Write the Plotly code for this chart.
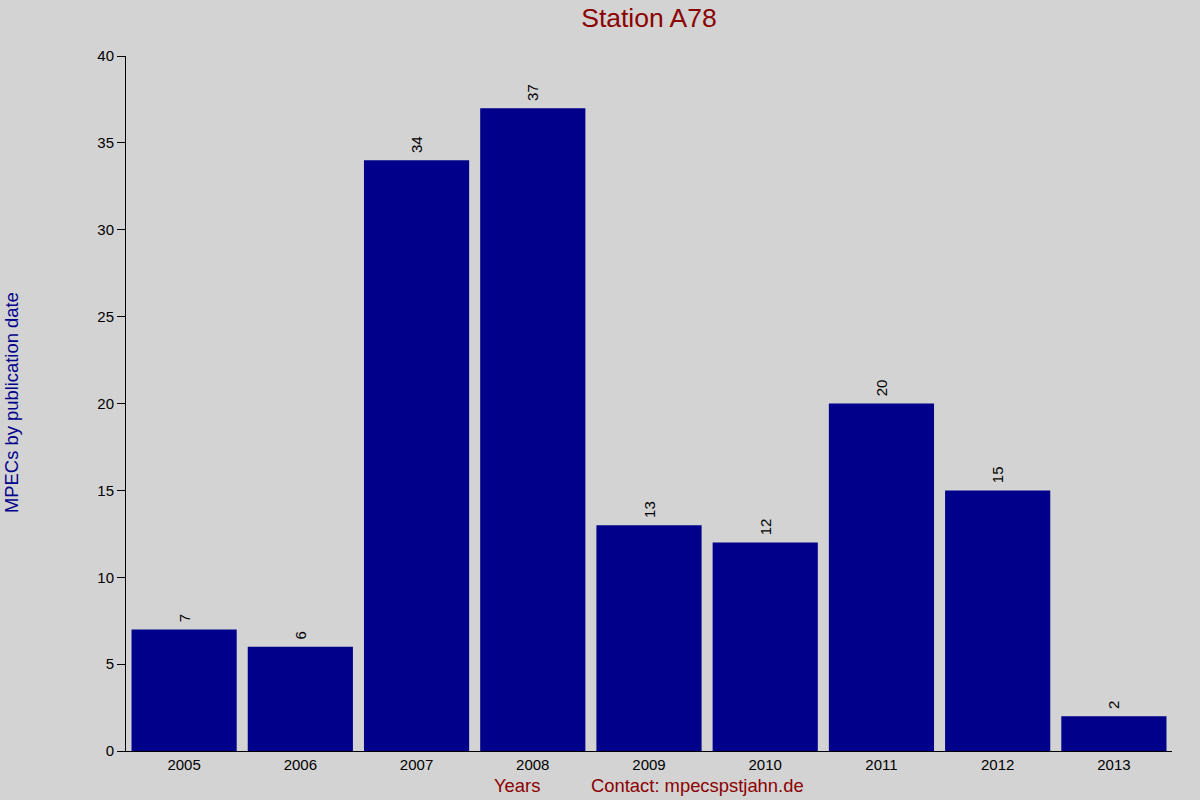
import plotly.graph_objects as go

years = ["2005", "2006", "2007", "2008", "2009", "2010", "2011", "2012", "2013"]
mpecs = [7, 6, 34, 37, 13, 12, 20, 15, 2]

BG = "#D3D3D3"
W, H = 1200, 800
L, T, R, B = 126, 56, 28, 49
pw = W - L - R
ph = H - T - B


def px_x(x):
    return (x - L) / pw


def px_y(y):
    return (H - B - y) / ph


fig = go.Figure()
fig.add_trace(go.Bar(
    x=years, y=mpecs,
    marker=dict(color="#00008B", line=dict(width=0)),
    text=[" " + str(v) for v in mpecs],
    textposition="outside",
    textangle=-90,
    textfont=dict(family="Liberation Sans, Arial", size=15, color="black"),
    cliponaxis=False,
))
fig.update_layout(
    width=W, height=H,
    paper_bgcolor=BG, plot_bgcolor=BG,
    margin=dict(l=L, r=R, t=T, b=B),
    bargap=0.095,
    showlegend=False,
    font=dict(family="Liberation Sans, Arial", size=14, color="black"),
    title=dict(text="Station A78", x=px_x(649), xref="paper", xanchor="center",
               y=1 - 18 / H, yanchor="middle",
               font=dict(size=26.5, color="#8B0000")),
    xaxis=dict(type="category", showgrid=False, showline=True, linecolor="black",
               linewidth=1, ticks="", tickfont=dict(size=15), range=[-0.5, 8.5]),
    yaxis=dict(range=[0, 40], dtick=5, showgrid=False, showline=True, linecolor="black",
               linewidth=1, ticks="outside", ticklen=8, tickcolor="black",
               tickfont=dict(size=15), zeroline=False),
    annotations=[
        dict(text="Years", x=px_x(517), y=px_y(786), xref="paper", yref="paper",
             xanchor="center", yanchor="middle",
             showarrow=False, font=dict(size=18.4, color="#8B0000")),
        dict(text="Contact: mpecspstjahn.de", x=px_x(697), y=px_y(786),
             xref="paper", yref="paper", xanchor="center", yanchor="middle",
             showarrow=False, font=dict(size=18.4, color="#8B0000")),
        dict(text="MPECs by publication date", textangle=-90, x=px_x(11), y=px_y(403),
             xref="paper", yref="paper", xanchor="center", yanchor="middle",
             showarrow=False, font=dict(size=18.4, color="#00008B")),
    ],
)
fig.write_html(
    "out.html",
    config={"displayModeBar": False},
    post_script="document.body.style.margin='0';document.body.style.background='#D3D3D3';",
)
